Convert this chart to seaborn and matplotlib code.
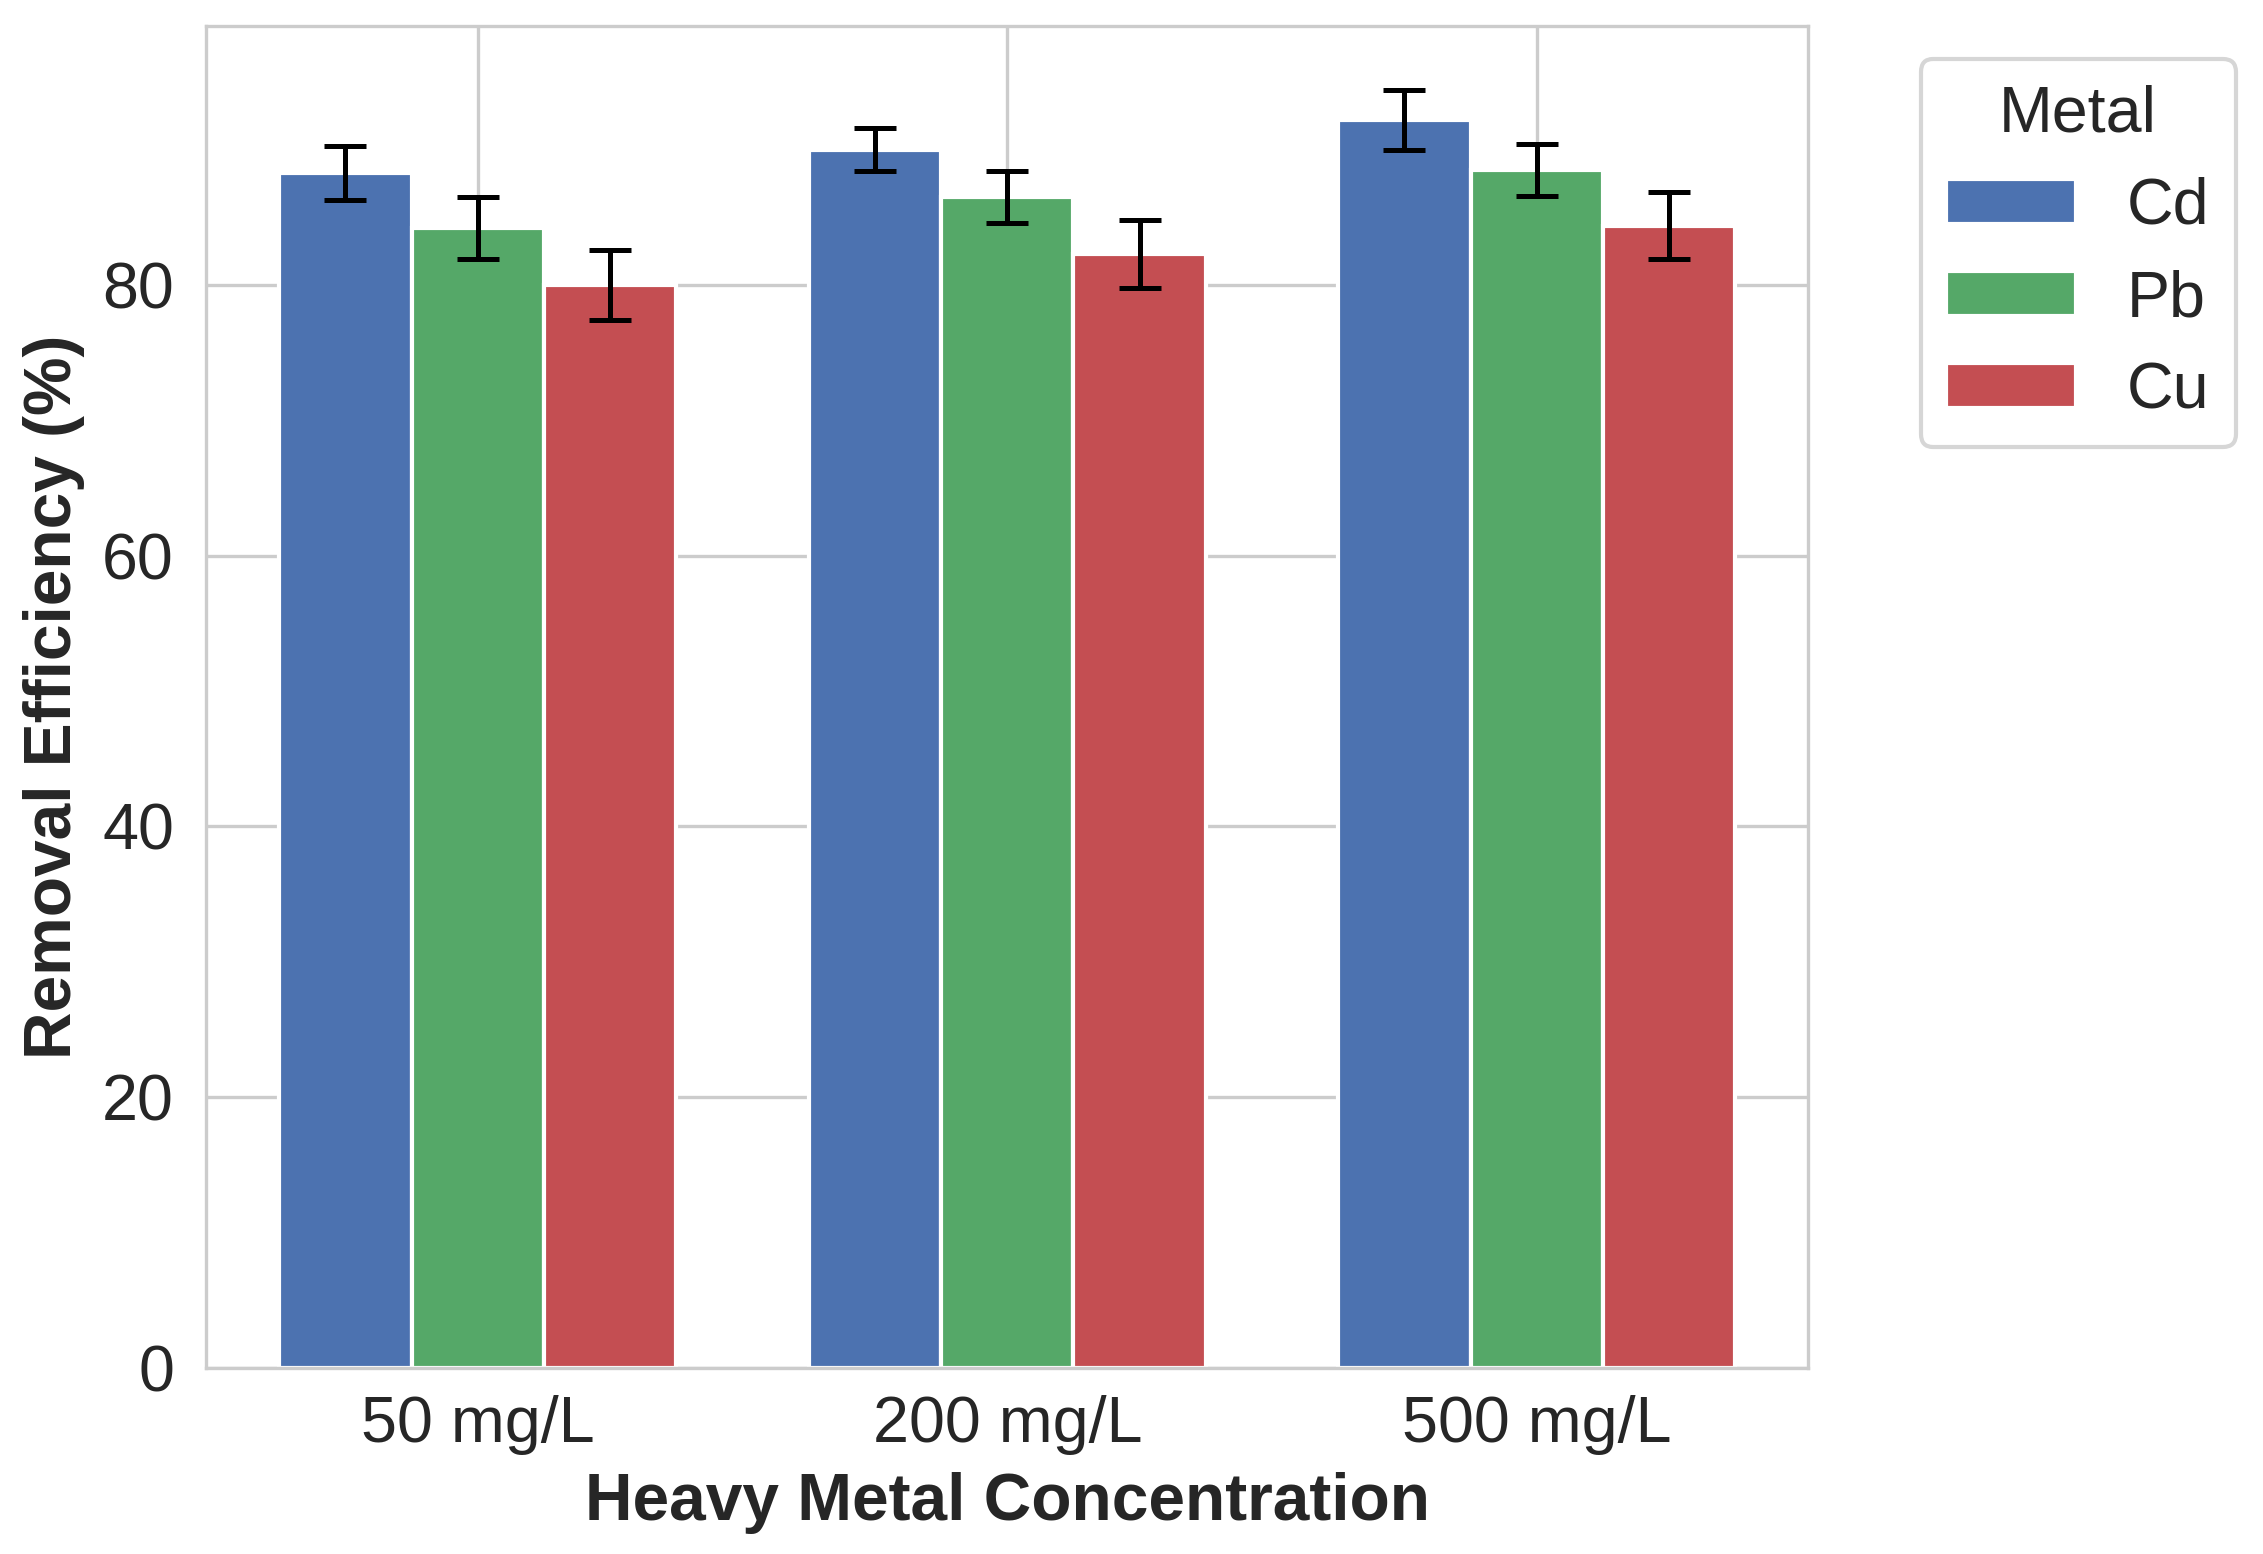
import matplotlib
matplotlib.use("Agg")
import matplotlib.pyplot as plt
import seaborn as sns
import pandas as pd

# Style first, fonts after (set_theme resets font.family)
sns.set_theme(style="whitegrid")
plt.rcParams['font.family'] = ['Liberation Sans', 'DejaVu Sans']

# Data
concentrations = ['50 mg/L', '200 mg/L', '500 mg/L']
metals = ['Cd', 'Pb', 'Cu']
# removal efficiency (%) per metal, one value per concentration
cd_mean = [88.3, 90.0, 92.2]
pb_mean = [84.2, 86.5, 88.5]
cu_mean = [80.0, 82.3, 84.4]
# standard deviations (error bars)
cd_err = [2.0, 1.6, 2.2]
pb_err = [2.3, 1.9, 1.9]
cu_err = [2.6, 2.5, 2.5]

colors = ['#4C72B0', '#55A868', '#C44E52']

means = {'Cd': cd_mean, 'Pb': pb_mean, 'Cu': cu_mean}
errs = {'Cd': cd_err, 'Pb': pb_err, 'Cu': cu_err}

rows = []
for m in metals:
    for c, v, e in zip(concentrations, means[m], errs[m]):
        rows.append({'Concentration': c, 'Metal': m, 'Efficiency': v, 'Err': e})
df = pd.DataFrame(rows)

fig = plt.figure(figsize=(2263 / 300, 1554 / 300), dpi=300)
ax = fig.add_subplot(111)
fig.subplots_adjust(left=0.0912, right=0.799, top=0.983, bottom=0.120)

sns.barplot(data=df, x='Concentration', y='Efficiency', hue='Metal',
            order=concentrations, hue_order=metals, palette=colors,
            width=0.75, errorbar=None, edgecolor='white', linewidth=1,
            saturation=1, ax=ax)

# error bars at the bar centres
for container, m in zip(ax.containers, metals):
    xs = [b.get_x() + b.get_width() / 2 for b in container]
    ys = [b.get_height() for b in container]
    ax.errorbar(xs, ys, yerr=errs[m], fmt='none', ecolor='black',
                elinewidth=1.2, capsize=5, capthick=1.2, zorder=5)

top = max(v + e for m in metals for v, e in zip(means[m], errs[m]))
ax.set_ylim(0, top * 1.05)
ax.set_xlim(-0.5125, 2.5125)

# grid on both axes, thin, behind bars
ax.set_axisbelow(True)
ax.grid(True, axis='both', color='#cccccc', linewidth=0.8)
for s in ax.spines.values():
    s.set_linewidth(0.8)
    s.set_color('#cccccc')

ax.set_xlabel('Heavy Metal Concentration', fontsize=15.8, fontweight='bold')
ax.set_ylabel('Removal Efficiency (%)', fontsize=15.8, fontweight='bold')
ax.tick_params(axis='both', labelsize=15.5)
ax.tick_params(axis='x', pad=0.6)
ax.tick_params(axis='y', pad=1.8)

ax.legend(title='Metal', bbox_to_anchor=(1.05, 1), loc='upper left',
          fontsize=15.5, title_fontsize=15.5)

plt.savefig('out.png', dpi=300)
